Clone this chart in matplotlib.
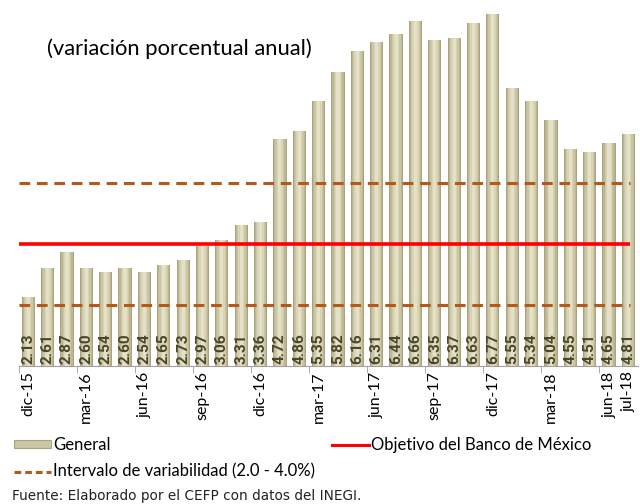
import numpy as np
import matplotlib
matplotlib.use("Agg")
import matplotlib.pyplot as plt
from matplotlib.lines import Line2D
from matplotlib.patches import Patch

# datos: inflación general, variación porcentual anual
meses = ["dic-15", "ene-16", "feb-16", "mar-16", "abr-16", "may-16", "jun-16", "jul-16",
         "ago-16", "sep-16", "oct-16", "nov-16", "dic-16", "ene-17", "feb-17", "mar-17",
         "abr-17", "may-17", "jun-17", "jul-17", "ago-17", "sep-17", "oct-17", "nov-17",
         "dic-17", "ene-18", "feb-18", "mar-18", "abr-18", "may-18", "jun-18", "jul-18"]
general = [2.13, 2.61, 2.87, 2.60, 2.54, 2.60, 2.54, 2.65, 2.73, 2.97, 3.06, 3.31, 3.36,
           4.72, 4.86, 5.35, 5.82, 6.16, 6.31, 6.44, 6.66, 6.35, 6.37, 6.63, 6.77,
           5.55, 5.34, 5.04, 4.55, 4.51, 4.65, 4.81]
objetivo = 3.0
intervalo = [2.0, 4.0]

FONT = ["Lato", "DejaVu Sans"]
plt.rcParams["font.family"] = FONT

fig = plt.figure(figsize=(6.4, 5.04), dpi=100)
ax = fig.add_axes([0.029, 0.274, 0.968, 0.726])

x = np.arange(len(general))
base = 1.0
alturas = np.array(general) - base

# cilindros: capas superpuestas para simular el degradado
capas = [(0.68, "#a9a37f"), (0.58, "#bdb792"), (0.46, "#cbc6a3"),
         (0.32, "#d8d4b5"), (0.16, "#e4e1c8")]
for w, c in capas:
    ax.bar(x, alturas, bottom=base, width=w, color=c, linewidth=0, zorder=2)

# líneas de referencia
ax.hlines(objetivo, -0.5, len(general) - 0.9, color="#ff0000", linewidth=2.6, zorder=3)
for v in intervalo:
    ax.hlines(v, -0.5, len(general) - 0.9, color="#b5591a", linewidth=2.2,
              linestyles=(0, (3.5, 2.2)), zorder=3)

# etiquetas de valor dentro de las barras
for xi, v in zip(x, general):
    ax.text(xi, base + 0.03, f"{v:.2f}", rotation=90, ha="center", va="bottom",
            fontsize=11, fontweight="bold", family=["Roboto", "DejaVu Sans"],
            color="#4a462a", zorder=4)

ax.set_ylim(base, 7.0)
ax.set_xlim(-0.5, len(general) - 0.5)

# eje x: etiquetas cada tres meses, marcas entre categorías
pos = list(range(0, len(general), 3)) + [len(general) - 1]
ax.set_xticks(pos)
ax.set_xticklabels([meses[i] for i in pos], rotation=90, fontsize=11.5)
ax.tick_params(axis="x", length=0, pad=4)
ax.set_xticks(np.arange(-0.5, len(general) - 1, 3), minor=True)
ax.tick_params(axis="x", which="minor", length=5, color="#a0a0a0")
ax.set_yticks([])

for s in ["top", "right", "left"]:
    ax.spines[s].set_visible(False)
ax.spines["bottom"].set_color("#a0a0a0")

ax.text(0.046, 0.868, "(variación porcentual anual)", transform=ax.transAxes,
        fontsize=15.8, color="black", va="center")

handles = [Patch(facecolor="#cbc6a3", edgecolor="#a9a37f", linewidth=0.8),
           Line2D([], [], color="#b5591a", linewidth=2.2, linestyle=(0, (2.2, 1.3))),
           Line2D([], [], color="#ff0000", linewidth=2.2)]
labels = ["General", "Intervalo de variabilidad (2.0 - 4.0%)",
          "Objetivo del Banco de México"]
fig.legend(handles, labels, ncol=2, loc="upper left",
           bbox_to_anchor=(0.022, 1 - 437 / 504), frameon=False, fontsize=12,
           handlelength=2.2, handleheight=0.35, handletextpad=0.15,
           labelspacing=0.62, columnspacing=1.0, borderpad=0, borderaxespad=0)

fig.text(12 / 640, 8 / 504, "Fuente: Elaborado por el CEFP con datos del INEGI.",
         fontsize=9.8, family=["DejaVu Sans"], va="center", color="#222222")

fig.savefig("out.png", dpi=100)
